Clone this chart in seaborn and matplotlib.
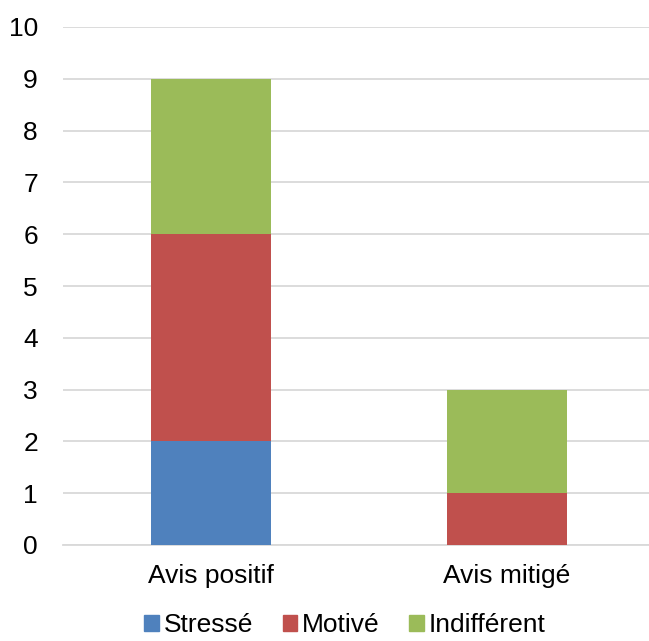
import matplotlib
matplotlib.use("Agg")
import matplotlib.pyplot as plt
import seaborn as sns
import numpy as np
import pandas as pd
from matplotlib.patches import Patch

categories = ["Avis positif", "Avis mitigé"]
series_names = ["Stressé", "Motivé", "Indifférent"]
stresse = [2, 0]
motive = [4, 1]
indifferent = [3, 2]
colors = ["#4F81BD", "#C0504D", "#9BBB59"]

sns.set_theme(style="white")
plt.rcParams['font.family'] = ['Liberation Sans', 'DejaVu Sans']

fig = plt.figure(figsize=(6.49, 6.41), dpi=100)
ax = fig.add_axes([63/649, 96/641, 592/649, 518/641])

values = [stresse, motive, indifferent]
bottom = np.zeros(len(categories))
for name, vals, col in zip(series_names, values, colors):
    df = pd.DataFrame({"cat": categories, "val": vals})
    sns.barplot(data=df, x="cat", y="val", color=col, width=0.405,
                bottom=bottom, ax=ax, saturation=1, linewidth=0, zorder=3)
    bottom = bottom + np.array(vals)

ax.set_ylim(0, 10)
ax.set_xlim(-0.5, 1.5)
ax.set_yticks(range(0, 11))
ax.yaxis.grid(True, color="#D9D9D9", linewidth=1.3, zorder=0)
ax.set_axisbelow(True)
for s in ["top", "right", "left"]:
    ax.spines[s].set_visible(False)
ax.spines["bottom"].set_color("#D9D9D9")
ax.spines["bottom"].set_linewidth(1.3)
ax.set_xlabel("")
ax.set_ylabel("")
ax.tick_params(axis="both", length=0, labelsize=19, colors="#000000")
ax.tick_params(axis="y", pad=18)
ax.tick_params(axis="x", pad=14)

handles = [Patch(color=c, label=n) for n, c in zip(series_names, colors)]
fig.legend(handles=handles, loc="center", bbox_to_anchor=(345/649, 1 - 625/641),
           ncol=3, frameon=False, fontsize=19, handlelength=0.55, handleheight=0.55,
           handletextpad=0.2, columnspacing=1.1, borderaxespad=0, labelcolor="black")

fig.savefig("out.png", dpi=100)
